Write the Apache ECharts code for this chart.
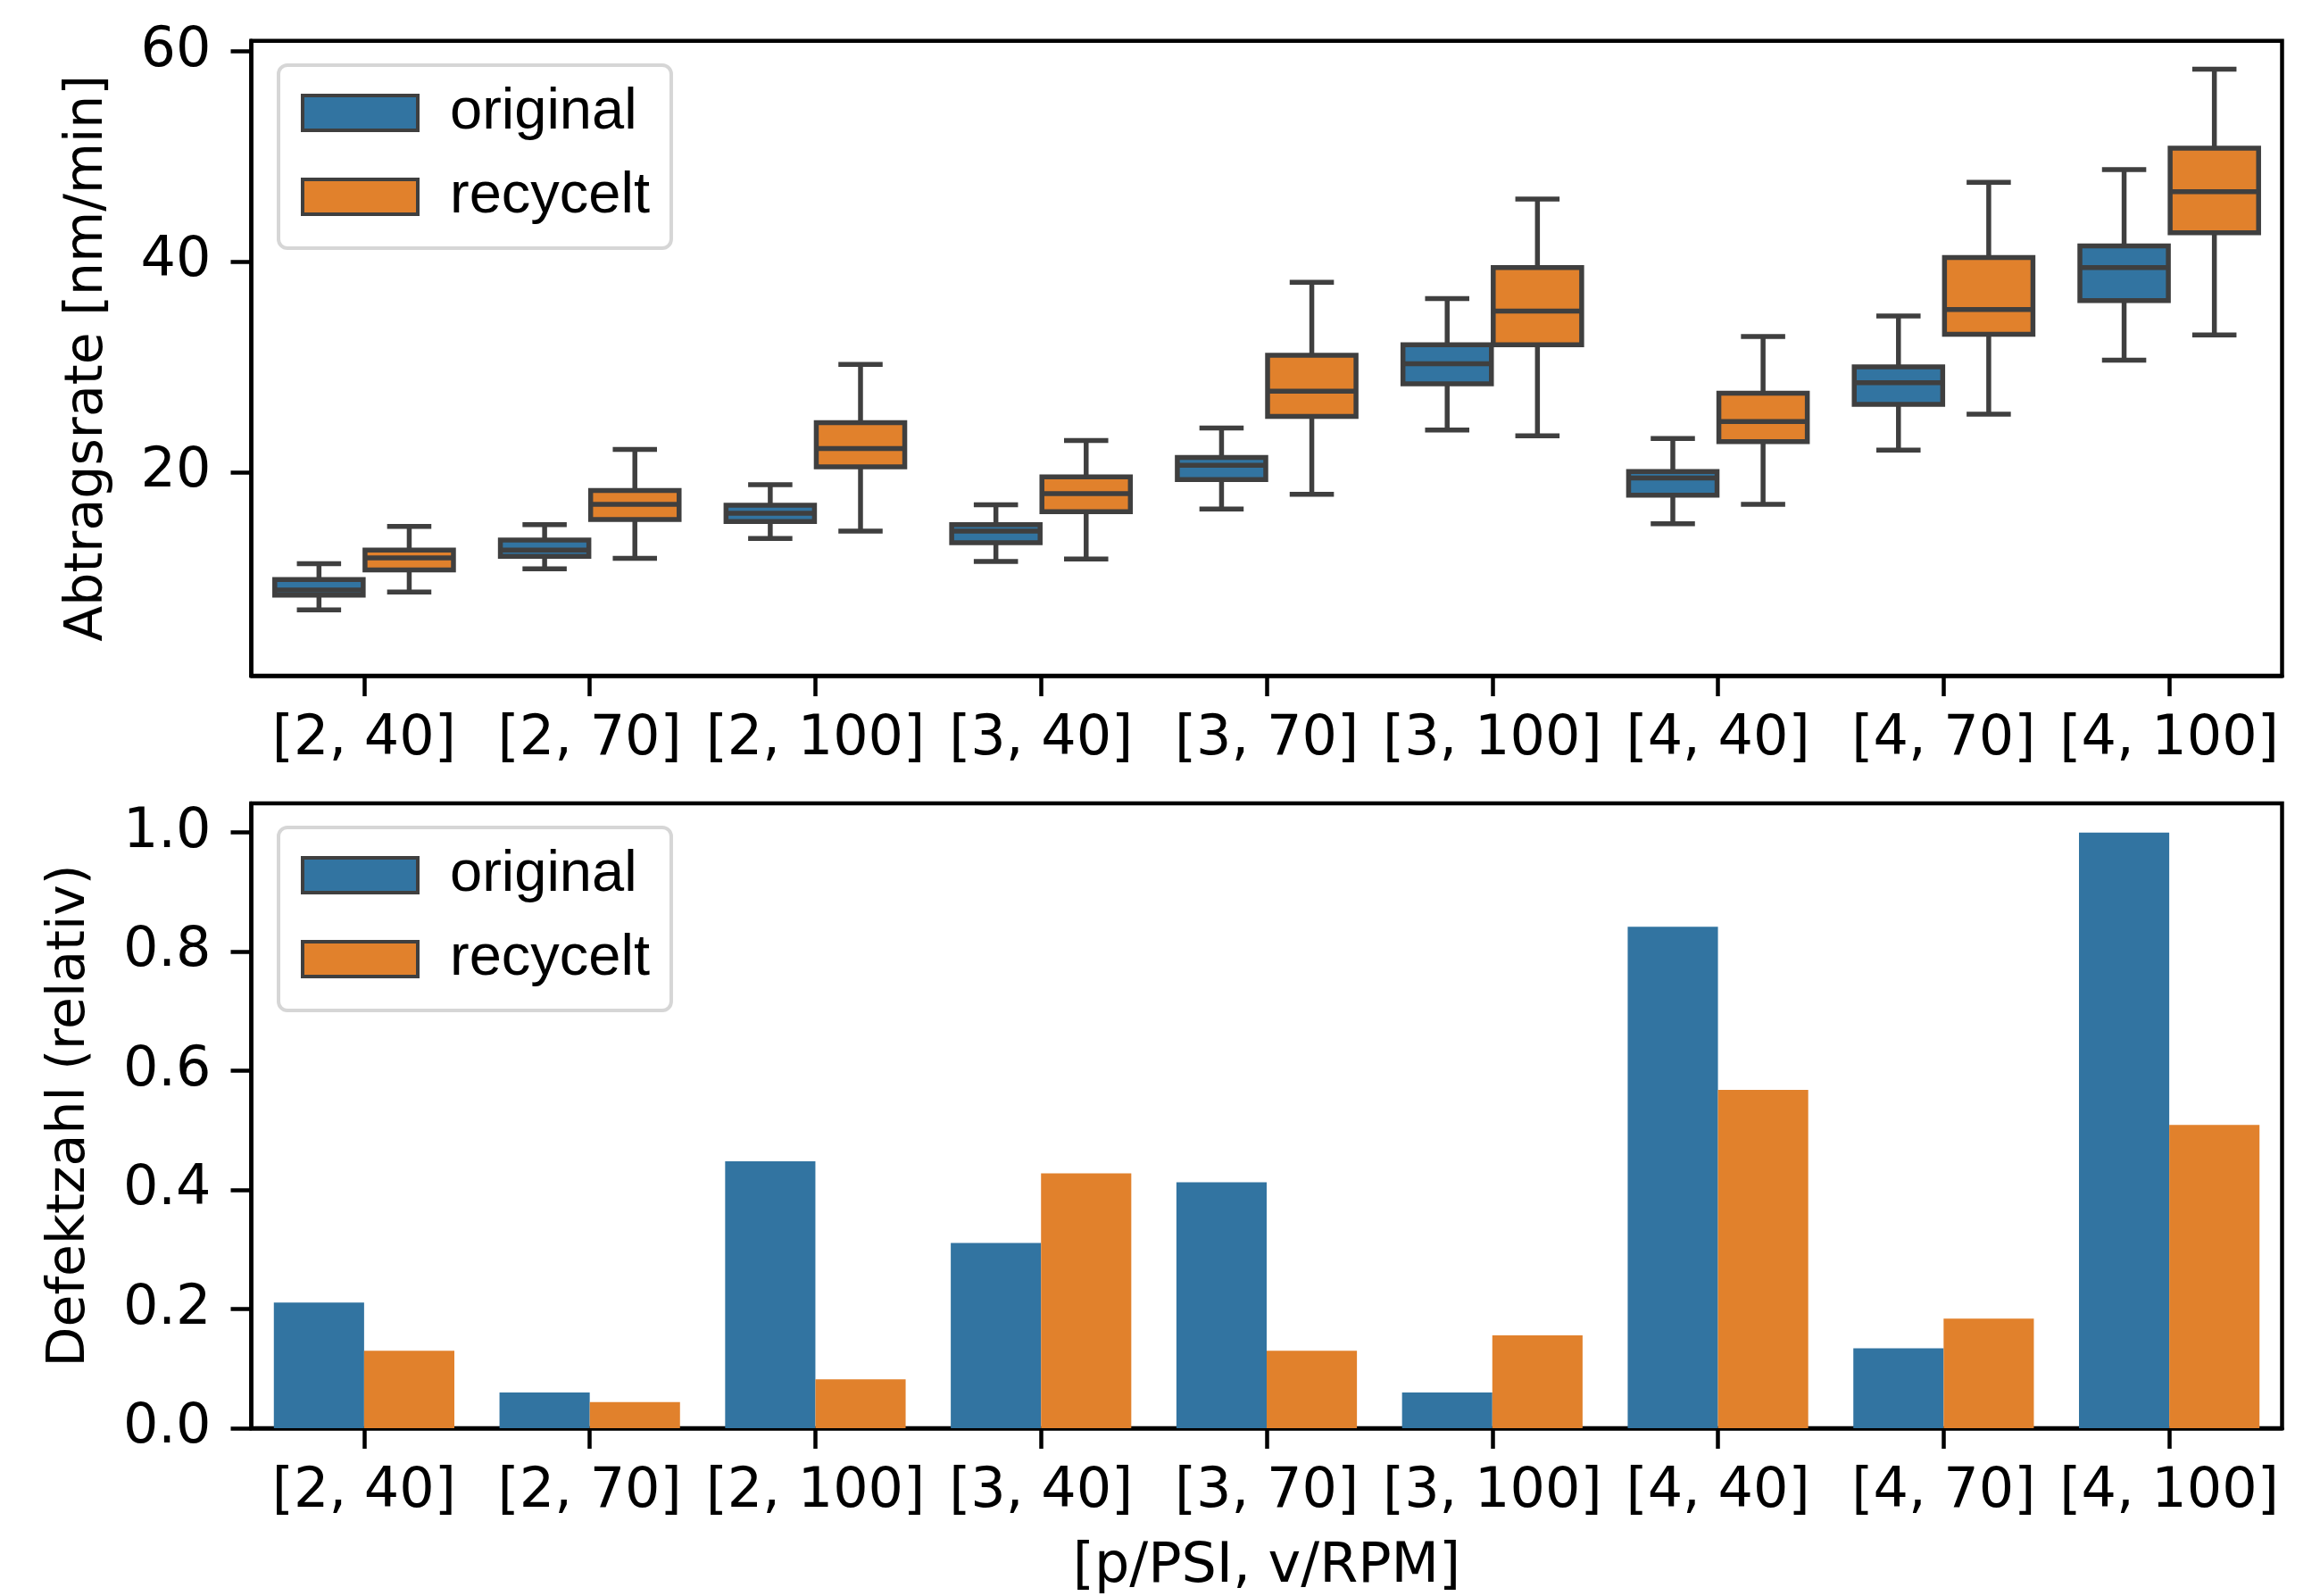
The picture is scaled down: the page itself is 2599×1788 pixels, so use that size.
<!DOCTYPE html>
<html><head><meta charset="utf-8">
<script src="https://cdn.jsdelivr.net/npm/echarts@6/dist/echarts.min.js"></script>
<style>html,body{margin:0;padding:0;background:#fff}#c{width:2599px;height:1788px}</style>
</head><body><div id="c"></div>
<script>
const categories = ['[2, 40]','[2, 70]','[2, 100]','[3, 40]','[3, 70]','[3, 100]','[4, 40]','[4, 70]','[4, 100]'];
const seriesNames = ['original', 'recycelt'];
// each entry: [lower whisker, Q1, median, Q3, upper whisker]
const rateOriginal = [
  [6.9, 8.3, 8.8, 9.8, 11.3],
  [10.8, 12.0, 12.6, 13.55, 15.0],
  [13.7, 15.3, 16.1, 16.85, 18.8],
  [11.5, 13.3, 14.4, 15.0, 16.9],
  [16.5, 19.3, 20.65, 21.4, 24.2],
  [24.0, 28.4, 30.3, 32.1, 36.5],
  [15.1, 17.8, 19.45, 20.05, 23.2],
  [22.1, 26.45, 28.5, 30.0, 34.85],
  [30.65, 36.3, 39.45, 41.5, 48.75]
];
const rateRecycelt = [
  [8.6, 10.7, 11.85, 12.6, 14.85],
  [11.8, 15.5, 16.95, 18.25, 22.15],
  [14.4, 20.5, 22.25, 24.7, 30.25],
  [11.75, 16.25, 17.95, 19.55, 23.0],
  [17.9, 25.3, 27.7, 31.1, 38.05],
  [23.45, 32.1, 35.3, 39.45, 45.95],
  [16.95, 22.9, 24.8, 27.5, 32.9],
  [25.5, 33.1, 35.45, 40.4, 47.55],
  [33.05, 42.75, 46.65, 50.8, 58.3]
];
const defectOriginal = [0.211, 0.060, 0.448, 0.311, 0.413, 0.060, 0.842, 0.134, 1.0];
const defectRecycelt = [0.130, 0.044, 0.082, 0.428, 0.130, 0.156, 0.568, 0.184, 0.509];
const rateTicks = [20, 40, 60];
const defectTicks = [0, 0.2, 0.4, 0.6, 0.8, 1.0];

const BLUE = '#3274a1', ORANGE = '#e1812c', EDGE = '#3f3f3f';
const LW = 5.5;
const AXW = 4.5;
const TICKFONT = 'DejaVu Sans';

function boxRenderer(side, color) {
  return function (params, api) {
    const i = api.value(0);
    const band = api.size([1, 0])[0];
    const cx = api.coord([i, 0])[0] + side * band * 0.2;
    const w = band * 0.392;
    const capHalf = w / 4;
    const y = k => api.coord([i, api.value(k)])[1];
    const yLo = y(1), yQ1 = y(2), yMed = y(3), yQ3 = y(4), yHi = y(5);
    const st = { stroke: EDGE, lineWidth: LW };
    return {
      type: 'group',
      children: [
        { type: 'line', shape: { x1: cx, y1: yLo, x2: cx, y2: yQ1 }, style: st },
        { type: 'line', shape: { x1: cx, y1: yQ3, x2: cx, y2: yHi }, style: st },
        { type: 'line', shape: { x1: cx - capHalf, y1: yLo, x2: cx + capHalf, y2: yLo }, style: st },
        { type: 'line', shape: { x1: cx - capHalf, y1: yHi, x2: cx + capHalf, y2: yHi }, style: st },
        { type: 'rect', shape: { x: cx - w / 2, y: yQ3, width: w, height: yQ1 - yQ3 },
          style: { fill: color, stroke: EDGE, lineWidth: LW } },
        { type: 'line', shape: { x1: cx - w / 2, y1: yMed, x2: cx + w / 2, y2: yMed }, style: st }
      ]
    };
  };
}

const toBoxData = arr => arr.map((d, i) => [i].concat(d));

function xAxisCfg(gridIndex, withName) {
  const cfg = {
    type: 'category', gridIndex: gridIndex, data: categories, boundaryGap: true,
    axisLine: { show: true, lineStyle: { color: '#000', width: AXW } },
    axisTick: { show: true, alignWithLabel: true, length: 23, lineStyle: { color: '#000', width: AXW } },
    axisLabel: { interval: 0, fontFamily: TICKFONT, fontSize: 62, color: '#000', margin: 41 },
    splitLine: { show: false }
  };
  if (withName) {
    cfg.name = '[p/PSI, v/RPM]';
    cfg.nameLocation = 'middle';
    cfg.nameGap = 125;
    cfg.nameTextStyle = { fontFamily: TICKFONT, fontSize: 62, color: '#000' };
  }
  return cfg;
}

function legendCfg(top) {
  return {
    orient: 'vertical', left: 312, top: top,
    itemWidth: 129, itemHeight: 39, itemGap: 29,
    padding: [21, 24, 25, 25],
    backgroundColor: 'rgba(255,255,255,0.8)',
    borderColor: '#d6d6d6', borderWidth: 4, borderRadius: 10,
    icon: 'rect',
    textStyle: { fontFamily: 'Liberation Sans', fontSize: 65, color: '#000', lineHeight: 60, padding: [0, 0, 0, 31] },
    data: [
      { name: seriesNames[0], icon: 'rect', itemStyle: { color: BLUE, borderColor: EDGE, borderWidth: 4 } },
      { name: seriesNames[1], icon: 'rect', itemStyle: { color: ORANGE, borderColor: EDGE, borderWidth: 4 } }
    ]
  };
}

function yAxisCfg(gridIndex, min, max, ticks, name, nameGap, fmt) {
  return {
    type: 'value', gridIndex: gridIndex, min: min, max: max,
    name: name, nameLocation: 'middle', nameGap: nameGap,
    nameTextStyle: { fontFamily: TICKFONT, fontSize: 58.5, color: '#000' },
    axisLine: { show: true, lineStyle: { color: '#000', width: AXW } },
    axisTick: { show: true, length: 23, customValues: ticks, lineStyle: { color: '#000', width: AXW } },
    axisLabel: { customValues: ticks, fontFamily: TICKFONT, fontSize: 62, color: '#000', margin: 45, formatter: fmt },
    splitLine: { show: false }
  };
}

const chart = echarts.init(document.getElementById('c'), null, { renderer: 'canvas' });
chart.setOption({
  backgroundColor: '#fff',
  animation: false,
  grid: [
    { left: 281.5, top: 45.7, width: 2275, height: 711.3, show: true, borderColor: '#000', borderWidth: AXW, backgroundColor: 'transparent' },
    { left: 281.5, top: 900, width: 2275, height: 711.3, show: true, borderColor: '#000', borderWidth: AXW, backgroundColor: 'transparent' }
  ],
  legend: [legendCfg(73), legendCfg(927)],
  xAxis: [xAxisCfg(0, false), xAxisCfg(1, true)],
  yAxis: [
    yAxisCfg(0, 0.65, 61, rateTicks, 'Abtragsrate [nm/min]', 153, v => String(v)),
    yAxisCfg(1, 0, 1.049, defectTicks, 'Defektzahl (relativ)', 173, v => Number(v).toFixed(1))
  ],
  series: [
    { name: seriesNames[0], type: 'custom', xAxisIndex: 0, yAxisIndex: 0, itemStyle: { color: BLUE },
      renderItem: boxRenderer(-1, BLUE), encode: { x: 0, y: [1, 2, 3, 4, 5] }, data: toBoxData(rateOriginal) },
    { name: seriesNames[1], type: 'custom', xAxisIndex: 0, yAxisIndex: 0, itemStyle: { color: ORANGE },
      renderItem: boxRenderer(1, ORANGE), encode: { x: 0, y: [1, 2, 3, 4, 5] }, data: toBoxData(rateRecycelt) },
    { name: seriesNames[0], type: 'bar', xAxisIndex: 1, yAxisIndex: 1, data: defectOriginal,
      barWidth: '40%', barGap: '0%', itemStyle: { color: BLUE } },
    { name: seriesNames[1], type: 'bar', xAxisIndex: 1, yAxisIndex: 1, data: defectRecycelt,
      barWidth: '40%', barGap: '0%', itemStyle: { color: ORANGE } }
  ]
});
</script></body></html>
